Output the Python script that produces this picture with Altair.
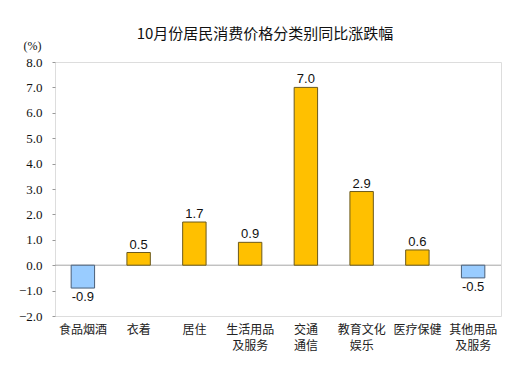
import altair as alt
import pandas as pd

categories = ["食品烟酒", "衣着", "居住", "生活用品\n及服务", "交通\n通信", "教育文化\n娱乐", "医疗保健", "其他用品\n及服务"]
values = [-0.9, 0.5, 1.7, 0.9, 7.0, 2.9, 0.6, -0.5]
y_ticks = [-2, -1, 0, 1, 2, 3, 4, 5, 6, 7, 8]

SERIF = "'Times New Roman', 'Liberation Serif', 'DejaVu Serif', serif"

df = pd.DataFrame({"cat": categories, "val": values})
df["label"] = df["val"].map(lambda v: f"{v:.1f}")
df["sign"] = df["val"].map(lambda v: "pos" if v >= 0 else "neg")

xaxis = alt.Axis(labelExpr="split(datum.label, '\\n')", labelAngle=0,
                 labelFont="Noto Sans CJK SC", labelFontSize=12, labelColor="#222",
                 labelPadding=8, labelLineHeight=16, ticks=False, domain=False,
                 labelBaseline="top")
xscale = alt.Scale(paddingInner=0.58, paddingOuter=0.29)
xenc = alt.X("cat:N", sort=categories, title=None, scale=xscale, axis=xaxis)
yscale = alt.Scale(domain=[-2, 8], nice=False)
yaxis = alt.Axis(values=y_ticks, format=".1f", labelOverlap=False,
                 grid=False, domain=False, tickSize=3, tickColor="#999",
                 labelFont=SERIF, labelFontSize=13, labelColor="#111",
                 labelPadding=10,
                 title="(%)", titleAngle=0, titleX=-23, titleY=-17,
                 titleAlign="center", titleBaseline="middle",
                 titleFont=SERIF, titleFontSize=12,
                 titleFontWeight="normal", titleColor="#111")

def yenc(field):
    return alt.Y(field, scale=yscale, axis=yaxis)

zero = alt.Chart(pd.DataFrame({"z": [0]})).mark_rule(color="#A6A6A6", strokeWidth=1).encode(
    y=yenc("z:Q"))

bars = alt.Chart(df).mark_bar(strokeWidth=1).encode(
    x=xenc,
    y=yenc("val:Q"),
    color=alt.Color("sign:N", scale=alt.Scale(domain=["pos", "neg"], range=["#FFC000", "#99CCFF"]), legend=None),
    stroke=alt.Stroke("sign:N", scale=alt.Scale(domain=["pos", "neg"], range=["#6B5A1E", "#4A5F78"]), legend=None),
)

pos_text = alt.Chart(df).transform_filter("datum.val >= 0").mark_text(
    baseline="bottom", dy=-1, font="Liberation Sans", fontSize=13, color="#111").encode(
    x=xenc, y=yenc("val:Q"), text="label:N")

neg_text = alt.Chart(df).transform_filter("datum.val < 0").mark_text(
    baseline="top", dy=3, font="Liberation Sans", fontSize=13, color="#111").encode(
    x=xenc, y=yenc("val:Q"), text="label:N")

chart = alt.layer(zero, bars, pos_text, neg_text).properties(
    width=446, height=254,
    title=alt.TitleParams("10月份居民消费价格分类别同比涨跌幅", font="Noto Sans CJK SC",
                          fontSize=15, fontWeight="normal", color="#111",
                          anchor="middle", offset=-3, dx=-13),
    autosize=alt.AutoSizeParams(type="none"),
    padding={"left": 47, "top": 54, "right": 20, "bottom": 54},
).configure_view(stroke="#A0A0A0", strokeWidth=1.5).configure(background="white")

chart.save("out.html", embed_options={"renderer": "svg", "actions": False})
